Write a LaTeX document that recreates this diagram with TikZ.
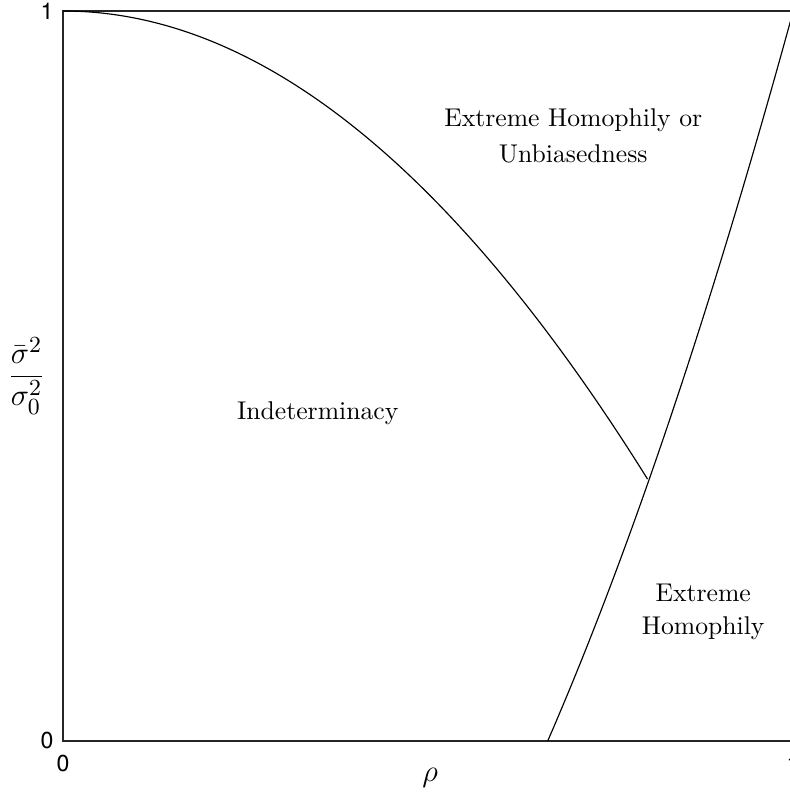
\documentclass[tikz,border=0pt]{standalone}
\usepackage{fontspec}
\newfontfamily\ticksf{TeX Gyre Heros}
\begin{document}
\begin{tikzpicture}[x=10cm,y=10cm,
  frame/.style={line width=0.5pt, black!85},
  curve/.style={line width=0.45pt, black},
  region/.style={align=center, font=\normalsize},
  ticklab/.style={font=\ticksf\fontsize{9}{10}\selectfont, inner sep=0pt},
  axlab/.style={font=\large, inner sep=0pt},
  fraclab/.style={font=\fontsize{13}{15}\selectfont, inner sep=0pt}]
\clip (-0.0863,-0.0740) rectangle (0.9959,1.0151);
% frame
\draw[frame] (0,0) rectangle (1,1);
% boundary curves
\draw[curve] plot[domain=0:0.8023, samples=120, smooth] (\x, {1-\x*\x});
\draw[curve] plot[domain=0.664:1, samples=60, smooth] (\x, {2.3*(\x-0.664)+2*(\x-0.664)*(\x-0.664)});
% tick labels
\node[ticklab] (y1) at (-0.022,1.0) {1};
\node[ticklab] (y0) at (-0.022,0.0) {0};
\node[ticklab] (x0) at (0.0,-0.0315) {0};
\node[ticklab] (x1) at (1.0,-0.0315) {1};
% axis labels
\node[axlab] (xlab) at (0.503,-0.050) {$\rho$};
\node[fraclab] (ylab) at (-0.0500,0.500) {$\displaystyle\frac{\bar\sigma^2}{\sigma_0^2}$};
% region labels
\node[region] (ehu) at (0.699,0.829) {Extreme Homophily or\\[2pt]Unbiasedness};
\node[region] (ind) at (0.349,0.449) {Indeterminacy};
\node[region] (eh) at (0.877,0.177) {Extreme\\[1pt]Homophily};
\end{tikzpicture}
\end{document}
